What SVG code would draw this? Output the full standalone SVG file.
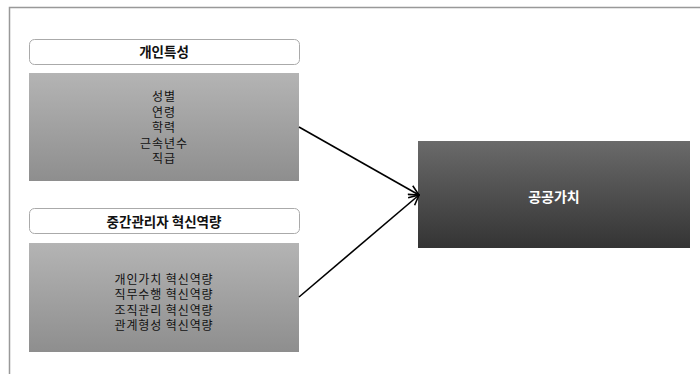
<svg xmlns="http://www.w3.org/2000/svg" width="700" height="374" viewBox="0 0 700 374">
<style>
text{font-family:"Noto Sans CJK KR","Noto Sans",sans-serif;text-anchor:middle}
.t{font-size:13.5px;font-weight:bold;fill:#111}
.b{font-size:12px;fill:#111;letter-spacing:0.9px}
.w{font-size:14px;font-weight:bold;fill:#fff}
.hd{fill:#fff;stroke:#aaa;stroke-width:1}
.c{stroke:#000;stroke-width:1.6;fill:none;marker-end:url(#ah)}
</style>
<defs>
<linearGradient id="g1" x1="0" y1="0" x2="0" y2="1"><stop offset="0" stop-color="#b4b4b4"/><stop offset="1" stop-color="#8e8e8e"/></linearGradient>
<linearGradient id="g2" x1="0" y1="0" x2="0" y2="1"><stop offset="0" stop-color="#6a6a6a"/><stop offset="1" stop-color="#343434"/></linearGradient>
<marker id="ah" viewBox="0 0 12 12" refX="11" refY="6" markerWidth="12" markerHeight="12" markerUnits="userSpaceOnUse" orient="auto"><path d="M1,1 L11,6 L1,11" fill="none" stroke="#000" stroke-width="1.6"/></marker>
</defs>
<rect width="700" height="374" fill="#fff"/>
<path d="M9.5,374 V7.5 H700" fill="none" stroke="#999" stroke-width="1.5"/>
<g id="personal-title"><rect class="hd" x="29.5" y="39.5" width="270" height="25" rx="5"/><text class="t" x="164" y="57">개인특성</text></g>
<g id="personal"><rect x="29" y="73" width="270" height="108" fill="url(#g1)"/>
<text class="b" x="164" y="101"><tspan x="164">성별</tspan><tspan x="164" dy="15.5">연령</tspan><tspan x="164" dy="15.5">학력</tspan><tspan x="164" dy="15.5">근속년수</tspan><tspan x="164" dy="15.5">직급</tspan></text></g>
<g id="mid-title"><rect class="hd" x="29.5" y="208.5" width="270" height="25" rx="5"/><text class="t" x="164" y="226.5">중간관리자 혁신역량</text></g>
<g id="mid"><rect x="29" y="243" width="270" height="109" fill="url(#g1)"/>
<text class="b" x="164" y="283.5"><tspan x="164">개인가치 혁신역량</tspan><tspan x="164" dy="15.5">직무수행 혁신역량</tspan><tspan x="164" dy="15.5">조직관리 혁신역량</tspan><tspan x="164" dy="15.5">관계형성 혁신역량</tspan></text></g>
<g id="public-value"><rect x="418" y="141" width="272" height="107" fill="url(#g2)"/><text class="w" x="554" y="202">공공가치</text></g>
<g id="connectors"><path class="c" d="M299,127 L419,195"/><path class="c" d="M299,297 L419,195"/></g>
</svg>
